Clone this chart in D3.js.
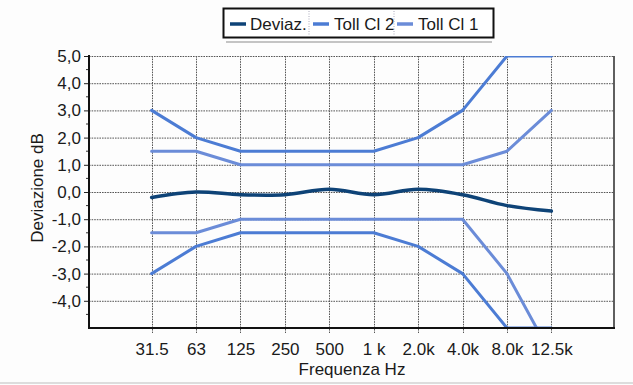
<!DOCTYPE html>
<html>
<head>
<meta charset="utf-8">
<script src="https://cdn.jsdelivr.net/npm/d3@7/dist/d3.min.js"></script>
<style>
  html, body { margin: 0; padding: 0; background: #fdfdfd; }
  svg { display: block; font-family: "Liberation Sans", Arial, sans-serif; }
</style>
</head>
<body>
<svg id="chart" width="633" height="385"></svg>
<script>
// Frequency bands (Hz) shown on the category axis
const categories = ["31.5", "63", "125", "250", "500", "1 k", "2.0k", "4.0k", "8.0k", "12.5k"];

// Measured deviation (dB)
const deviaz = [-0.2, 0.0, -0.1, -0.1, 0.1, -0.1, 0.1, -0.1, -0.5, -0.7];

// Class 2 tolerance limits (dB)
const tollCl2Upper = [3.0, 2.0, 1.5, 1.5, 1.5, 1.5, 2.0, 3.0, 5.0, 5.0];
const tollCl2Lower = [-3.0, -2.0, -1.5, -1.5, -1.5, -1.5, -2.0, -3.0, -5.0, -5.0];

// Class 1 tolerance limits (dB)
const tollCl1Upper = [1.5, 1.5, 1.0, 1.0, 1.0, 1.0, 1.0, 1.0, 1.5, 3.0];
const tollCl1Lower = [-1.5, -1.5, -1.0, -1.0, -1.0, -1.0, -1.0, -1.0, -3.0, -6.0];

// Y axis ticks and labels (Italian decimal comma)
const yTicks = [5, 4, 3, 2, 1, 0, -1, -2, -3, -4];
const yMinorTicks = [4.5, 3.5, 2.5, 1.5, 0.5, -0.5, -1.5, -2.5, -3.5, -4.5];
const yTickLabels = yTicks.map(v => d3.format(".1f")(v).replace(".", ",").replace("−", "-"));

const legendNames = ["Deviaz.", "Toll Cl 2", "Toll Cl 1"];

const colors = { deviaz: "#0e4377", cl2: "#4c7cd4", cl1: "#6b8cd8" };

const svg = d3.select("#chart");
const plot = { left: 89, right: 614, top: 56, bottom: 328 };

const x = d3.scalePoint().domain(categories).range([plot.left, plot.right]).padding(1.41);
const y = d3.scaleLinear().domain([-5, 5]).range([plot.bottom, plot.top]);

const g = svg.append("g");

// grid
const grid = g.append("g").attr("stroke", "#3a3a3a").attr("stroke-width", 1)
  .attr("stroke-dasharray", "1.6,1").attr("opacity", 0.85);
grid.selectAll("line.h").data(yTicks).join("line")
  .attr("x1", plot.left).attr("x2", plot.right)
  .attr("y1", d => y(d) + 0.5).attr("y2", d => y(d) + 0.5);
grid.selectAll("line.v").data(categories).join("line")
  .attr("x1", d => Math.round(x(d)) + 0.5).attr("x2", d => Math.round(x(d)) + 0.5)
  .attr("y1", plot.top).attr("y2", plot.bottom + 5);

// right border
g.append("line").attr("x1", plot.right).attr("x2", plot.right)
  .attr("y1", plot.top).attr("y2", plot.bottom)
  .attr("stroke", "#2a2a2a").attr("stroke-width", 1.5);

// series
g.append("clipPath").attr("id", "clip").append("rect")
  .attr("x", plot.left).attr("y", plot.top)
  .attr("width", plot.right - plot.left).attr("height", plot.bottom - plot.top);

const series = g.append("g").attr("clip-path", "url(#clip)").attr("fill", "none")
  .attr("stroke-linejoin", "round").attr("stroke-linecap", "round");

const straight = d3.line().x((d, i) => x(categories[i])).y(d => y(d));
const smooth = d3.line().x((d, i) => x(categories[i])).y(d => y(d)).curve(d3.curveCatmullRom.alpha(0.5));

[tollCl2Upper, tollCl2Lower].forEach(s =>
  series.append("path").attr("d", straight(s)).attr("stroke", colors.cl2).attr("stroke-width", 3));
[tollCl1Upper, tollCl1Lower].forEach(s =>
  series.append("path").attr("d", straight(s)).attr("stroke", colors.cl1).attr("stroke-width", 3));
series.append("path").attr("d", smooth(deviaz)).attr("stroke", colors.deviaz).attr("stroke-width", 3.5);

// axes
const yAxis = d3.axisLeft(y).tickValues(yTicks).tickSize(5).tickPadding(3)
  .tickFormat((d, i) => yTickLabels[i]);
const yAx = g.append("g").attr("transform", `translate(${plot.left},0)`).call(yAxis);
yAx.select(".domain").remove();
yAx.selectAll("line").attr("stroke", "#222");
yAx.selectAll("text").attr("font-size", 17).attr("fill", "#1a1a1a")
  .attr("font-family", "Liberation Sans, Arial, sans-serif");

g.append("g").selectAll("line").data(yMinorTicks).join("line")
  .attr("x1", plot.left - 3).attr("x2", plot.left)
  .attr("y1", d => y(d)).attr("y2", d => y(d))
  .attr("stroke", "#333").attr("stroke-width", 1);

const xAxis = d3.axisBottom(x).tickSize(0).tickPadding(15);
const xAx = g.append("g").attr("transform", `translate(0,${plot.bottom})`).call(xAxis);
xAx.select(".domain").remove();
xAx.selectAll("text").attr("font-size", 17).attr("fill", "#1a1a1a")
  .attr("font-family", "Liberation Sans, Arial, sans-serif");

g.append("line").attr("x1", plot.left).attr("x2", plot.left)
  .attr("y1", plot.top - 1).attr("y2", plot.bottom + 1)
  .attr("stroke", "#111").attr("stroke-width", 2);
g.append("line").attr("x1", plot.left - 1).attr("x2", plot.right + 1)
  .attr("y1", plot.bottom).attr("y2", plot.bottom)
  .attr("stroke", "#111").attr("stroke-width", 2);

// axis titles
g.append("text").attr("x", 352).attr("y", 375).attr("text-anchor", "middle")
  .attr("font-size", 17).attr("fill", "#1a1a1a").text("Frequenza Hz");
g.append("text").attr("transform", "translate(43,188) rotate(-90)").attr("text-anchor", "middle")
  .attr("font-size", 17).attr("fill", "#1a1a1a").text("Deviazione dB");

// legend
const legend = svg.append("g");
legend.append("line").attr("x1", 226).attr("x2", 492).attr("y1", 42).attr("y2", 42)
  .attr("stroke", "#c4c4c4").attr("stroke-width", 2);
legend.append("rect").attr("x", 223.5).attr("y", 8.5).attr("width", 270).attr("height", 29)
  .attr("fill", "#fff").attr("stroke", "#111").attr("stroke-width", 2);
const legendItems = [
  { name: legendNames[0], color: colors.deviaz, sx: 230, tx: 250 },
  { name: legendNames[1], color: colors.cl2, sx: 313, tx: 334 },
  { name: legendNames[2], color: colors.cl1, sx: 397, tx: 418 }
];
legendItems.forEach(it => {
  legend.append("line").attr("x1", it.sx).attr("x2", it.sx + 16).attr("y1", 24).attr("y2", 24)
    .attr("stroke", it.color).attr("stroke-width", 3.5);
  legend.append("text").attr("x", it.tx).attr("y", 30).attr("font-size", 17)
    .attr("fill", "#1a1a1a").text(it.name);
});
[309, 394].forEach(sx => legend.append("line").attr("x1", sx).attr("x2", sx)
  .attr("y1", 11).attr("y2", 35).attr("stroke", "#aab").attr("stroke-width", 1)
  .attr("stroke-dasharray", "1,1.5"));

// page edge
svg.append("line").attr("x1", 0).attr("x2", 633).attr("y1", 383).attr("y2", 383)
  .attr("stroke", "#d2d2d2").attr("stroke-width", 1.5);
</script>
</body>
</html>
